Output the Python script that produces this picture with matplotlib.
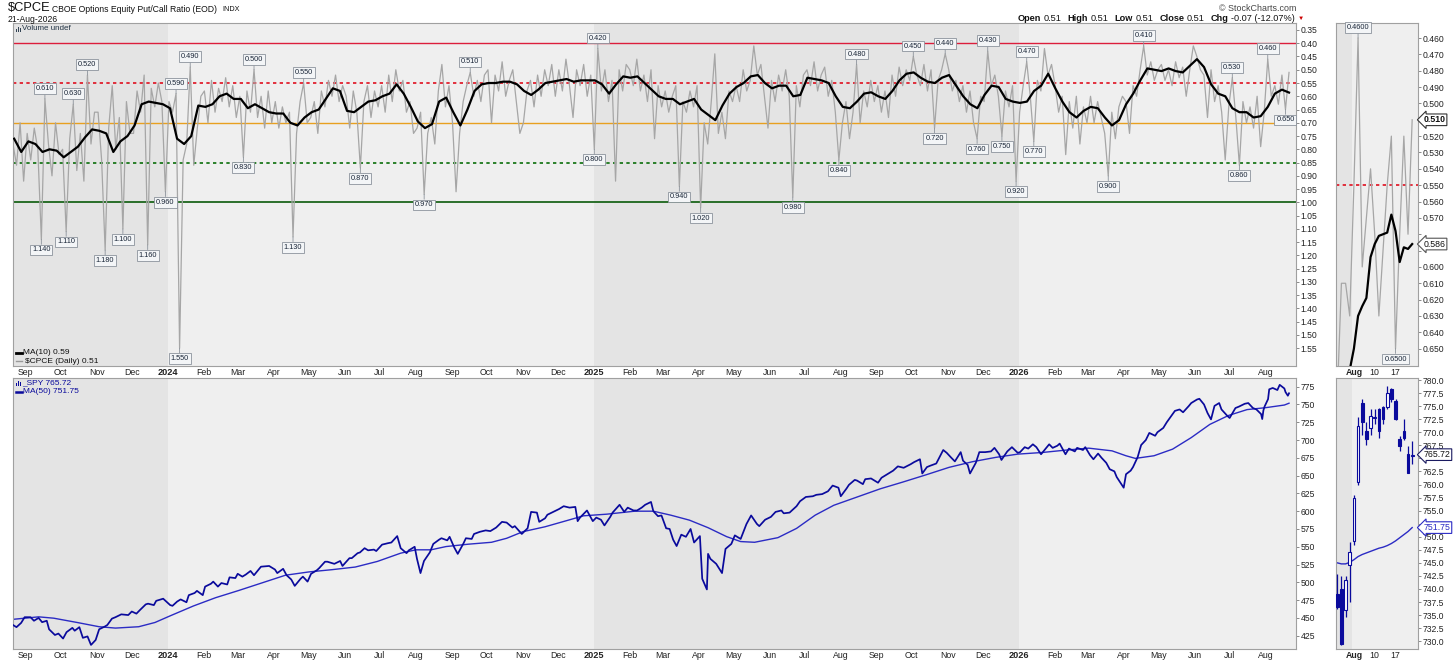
import numpy as np
import pandas as pd
import matplotlib
matplotlib.use("Agg")
import matplotlib.pyplot as plt
from matplotlib.lines import Line2D
from matplotlib.patches import Rectangle

W, H = 1456, 666
plt.rcParams['font.family'] = ['Liberation Sans', 'DejaVu Sans']

# ---- $CPCE daily (10 readings per month, Aug 21 2023 .. Aug 21 2026) ----
cpce_2023 = [
    0.78, 0.86, 0.70, 0.92,
    0.74, 0.84, 0.72, 0.80, 1.14, 0.61, 0.78, 0.90, 0.70, 0.82,
    0.80, 1.11, 0.76, 0.63, 0.88, 0.74, 0.92, 0.52, 0.78, 0.66,
    0.66, 0.84, 1.18, 0.72, 0.56, 0.80, 0.68, 1.10, 0.62, 0.74,
    0.74, 0.58, 0.66, 0.52, 1.16, 0.57, 0.64, 0.55, 0.62, 0.96,
]
cpce_2024 = [
    0.62, 0.66, 0.59, 1.55, 0.84, 0.78, 0.49, 0.86, 0.72, 0.60,
    0.58, 0.70, 0.54, 0.66, 0.57, 0.62, 0.53, 0.64, 0.56, 0.68,
    0.60, 0.83, 0.58, 0.66, 0.50, 0.68, 0.60, 0.72, 0.58, 0.70,
    0.62, 0.72, 0.64, 0.70, 0.66, 1.13, 0.74, 0.62, 0.55, 0.70,
    0.68, 0.62, 0.74, 0.58, 0.64, 0.54, 0.60, 0.52, 0.62, 0.56,
    0.60, 0.72, 0.58, 0.66, 0.87, 0.62, 0.56, 0.68, 0.58, 0.64,
    0.56, 0.66, 0.52, 0.62, 0.50, 0.58, 0.54, 0.66, 0.62, 0.74,
    0.72, 0.66, 0.97, 0.74, 0.68, 0.78, 0.58, 0.48, 0.64, 0.56,
    0.70, 0.96, 0.74, 0.62, 0.56, 0.51, 0.60, 0.54, 0.62, 0.52,
    0.50, 0.70, 0.52, 0.58, 0.47, 0.60, 0.54, 0.50, 0.62, 0.74,
    0.70, 0.58, 0.54, 0.64, 0.52, 0.60, 0.50, 0.56, 0.48, 0.60,
    0.50, 0.58, 0.46, 0.56, 0.68, 0.50, 0.56, 0.48, 0.60, 0.52,
]
cpce_2025 = [
    0.80, 0.42, 0.58, 0.50, 0.62, 0.54, 0.92, 0.50, 0.58, 0.48,
    0.50, 0.56, 0.46, 0.58, 0.52, 0.62, 0.50, 0.76, 0.56, 0.64,
    0.58, 0.66, 0.60, 0.56, 0.94, 0.62, 0.66, 0.58, 0.64, 0.56,
    1.02, 0.70, 0.78, 0.62, 0.44, 0.74, 0.66, 0.76, 0.58, 0.62,
    0.56, 0.62, 0.50, 0.58, 0.54, 0.41, 0.52, 0.48, 0.60, 0.72,
    0.54, 0.62, 0.52, 0.58, 0.50, 0.60, 0.98, 0.56, 0.64, 0.52,
    0.50, 0.56, 0.47, 0.58, 0.52, 0.49, 0.60, 0.54, 0.66, 0.84,
    0.70, 0.62, 0.76, 0.66, 0.48, 0.70, 0.58, 0.64, 0.54, 0.62,
    0.56, 0.66, 0.58, 0.68, 0.52, 0.60, 0.49, 0.56, 0.50, 0.54,
    0.45, 0.52, 0.56, 0.48, 0.58, 0.50, 0.72, 0.54, 0.50, 0.44,
    0.50, 0.58, 0.54, 0.62, 0.56, 0.66, 0.58, 0.70, 0.76, 0.60,
    0.62, 0.43, 0.56, 0.52, 0.60, 0.75, 0.58, 0.64, 0.56, 0.92,
]
cpce_2026 = [
    0.66, 0.56, 0.47, 0.60, 0.77, 0.54, 0.58, 0.42, 0.52, 0.48,
    0.56, 0.66, 0.60, 0.82, 0.62, 0.72, 0.60, 0.78, 0.64, 0.70,
    0.60, 0.70, 0.62, 0.68, 0.74, 0.90, 0.66, 0.76, 0.64, 0.60,
    0.62, 0.74, 0.56, 0.60, 0.50, 0.41, 0.52, 0.47, 0.54, 0.50,
    0.48, 0.54, 0.50, 0.56, 0.47, 0.53, 0.49, 0.60, 0.50, 0.41,
    0.45, 0.50, 0.52, 0.68, 0.50, 0.62, 0.56, 0.66, 0.84, 0.64,
    0.53, 0.68, 0.86, 0.62, 0.70, 0.64, 0.72, 0.60, 0.79, 0.66,
    0.46, 0.60, 0.56, 0.63, 0.52, 0.65, 0.51,
]

# MA(10) of $CPCE (5 readings per month)
ma10_2023 = [0.76, 0.81,
             0.77, 0.78, 0.81, 0.80, 0.805,
             0.83, 0.81, 0.79, 0.755, 0.725,
             0.73, 0.74, 0.81, 0.77, 0.75,
             0.71, 0.63, 0.62, 0.625, 0.63]
ma10_2024 = [0.645, 0.76, 0.78, 0.75, 0.635,
             0.64, 0.63, 0.60, 0.59, 0.61,
             0.61, 0.645, 0.63, 0.645, 0.66,
             0.665, 0.665, 0.70, 0.71, 0.68,
             0.66, 0.65, 0.61, 0.57, 0.58,
             0.655, 0.66, 0.64, 0.62, 0.615,
             0.60, 0.59, 0.555, 0.59, 0.64,
             0.695, 0.72, 0.705, 0.62, 0.605,
             0.66, 0.71, 0.65, 0.58, 0.555,
             0.55, 0.55, 0.545, 0.545, 0.555,
             0.58, 0.595, 0.575, 0.55, 0.545,
             0.54, 0.535, 0.545, 0.54, 0.54]
ma10_2025 = [0.54, 0.555, 0.59, 0.555, 0.525,
             0.53, 0.525, 0.55, 0.575, 0.60,
             0.61, 0.61, 0.63, 0.62, 0.61,
             0.65, 0.67, 0.69, 0.635, 0.59,
             0.565, 0.55, 0.525, 0.52, 0.55,
             0.57, 0.56, 0.56, 0.60, 0.595,
             0.53, 0.535, 0.54, 0.55, 0.60,
             0.64, 0.645, 0.62, 0.59, 0.585,
             0.60, 0.61, 0.58, 0.54, 0.515,
             0.51, 0.53, 0.545, 0.55, 0.53,
             0.52, 0.56, 0.60, 0.63, 0.645,
             0.595, 0.56, 0.565, 0.61, 0.62]
ma10_2026 = [0.625, 0.62, 0.58, 0.56, 0.515,
             0.57, 0.62, 0.66, 0.68, 0.655,
             0.64, 0.645, 0.68, 0.71, 0.69,
             0.63, 0.59, 0.54, 0.495, 0.50,
             0.505, 0.495, 0.505, 0.51, 0.485,
             0.46, 0.49, 0.555, 0.59, 0.60,
             0.645, 0.66, 0.66, 0.68, 0.675,
             0.64, 0.59, 0.575, 0.586]

# spikes that carry a value tag (dates)
tag_low_dates = ["2023-09-15", "2023-10-10", "2023-10-24", "2024-01-08", "2024-01-19",
                 "2024-03-15", "2024-04-26", "2024-09-16", "2025-01-06", "2025-08-15",
                 "2025-10-03", "2025-10-30", "2025-12-05", "2026-01-09", "2026-04-17",
                 "2026-07-02", "2026-08-03"]
tag_high_dates = ["2023-09-13", "2023-10-04", "2023-11-09", "2023-11-22", "2023-12-14",
                  "2023-12-28", "2024-01-10", "2024-03-05", "2024-04-17", "2024-06-14",
                  "2024-08-08", "2025-01-03", "2025-03-13", "2025-04-03", "2025-06-19",
                  "2025-07-31", "2025-10-20", "2025-11-26", "2025-12-18", "2026-01-01",
                  "2026-01-14", "2026-03-18", "2026-07-07", "2026-08-18"]

# ---- SPY closes and MA(50) ----
spy_2023 = [("2023-08-21", 440), ("2023-08-24", 437), ("2023-08-28", 443), ("2023-08-31", 451),
            ("2023-09-05", 451), ("2023-09-08", 446), ("2023-09-12", 450), ("2023-09-15", 444),
            ("2023-09-19", 446), ("2023-09-21", 434), ("2023-09-26", 426), ("2023-09-29", 428),
            ("2023-10-03", 421), ("2023-10-06", 430), ("2023-10-11", 436), ("2023-10-13", 432),
            ("2023-10-17", 437), ("2023-10-20", 422), ("2023-10-24", 424), ("2023-10-27", 412),
            ("2023-10-31", 419), ("2023-11-03", 434), ("2023-11-08", 438), ("2023-11-10", 440),
            ("2023-11-14", 449), ("2023-11-17", 451), ("2023-11-22", 455), ("2023-11-28", 454),
            ("2023-12-01", 459), ("2023-12-05", 456), ("2023-12-08", 461), ("2023-12-13", 469),
            ("2023-12-15", 470), ("2023-12-20", 468), ("2023-12-22", 474), ("2023-12-28", 477)]
spy_2024 = [("2024-01-03", 468), ("2024-01-05", 467), ("2024-01-09", 473), ("2024-01-12", 476),
            ("2024-01-17", 472), ("2024-01-19", 482), ("2024-01-24", 485), ("2024-01-26", 488),
            ("2024-01-31", 482), ("2024-02-02", 494), ("2024-02-07", 498), ("2024-02-09", 501),
            ("2024-02-13", 494), ("2024-02-16", 499), ("2024-02-21", 497), ("2024-02-23", 507),
            ("2024-02-28", 506), ("2024-03-01", 512), ("2024-03-05", 508), ("2024-03-08", 511),
            ("2024-03-12", 516), ("2024-03-15", 510), ("2024-03-21", 522), ("2024-03-28", 523),
            ("2024-04-02", 518), ("2024-04-04", 513), ("2024-04-09", 519), ("2024-04-12", 510),
            ("2024-04-16", 504), ("2024-04-19", 495), ("2024-04-24", 505), ("2024-04-26", 508),
            ("2024-04-30", 501), ("2024-05-03", 512), ("2024-05-08", 517), ("2024-05-10", 520),
            ("2024-05-15", 529), ("2024-05-17", 529), ("2024-05-23", 526), ("2024-05-28", 530),
            ("2024-05-30", 523), ("2024-06-05", 534), ("2024-06-07", 534), ("2024-06-12", 541),
            ("2024-06-14", 542), ("2024-06-18", 548), ("2024-06-21", 545), ("2024-06-26", 546),
            ("2024-06-28", 544), ("2024-07-03", 553), ("2024-07-08", 555), ("2024-07-11", 556),
            ("2024-07-16", 565), ("2024-07-19", 548), ("2024-07-24", 541), ("2024-07-26", 545),
            ("2024-07-31", 550), ("2024-08-02", 533), ("2024-08-05", 513), ("2024-08-08", 530),
            ("2024-08-13", 542), ("2024-08-16", 554), ("2024-08-21", 560), ("2024-08-23", 562),
            ("2024-08-28", 559), ("2024-08-30", 564), ("2024-09-03", 549), ("2024-09-06", 540),
            ("2024-09-11", 555), ("2024-09-13", 562), ("2024-09-18", 561), ("2024-09-20", 568),
            ("2024-09-25", 571), ("2024-09-30", 573), ("2024-10-04", 572), ("2024-10-09", 577),
            ("2024-10-14", 585), ("2024-10-18", 584), ("2024-10-23", 577), ("2024-10-25", 579),
            ("2024-10-31", 568), ("2024-11-05", 576), ("2024-11-08", 599), ("2024-11-13", 598),
            ("2024-11-15", 585), ("2024-11-20", 590), ("2024-11-22", 595), ("2024-11-27", 599),
            ("2024-12-02", 603), ("2024-12-06", 607), ("2024-12-11", 605), ("2024-12-16", 606),
            ("2024-12-18", 586), ("2024-12-20", 591), ("2024-12-26", 601), ("2024-12-31", 586)]
spy_2025 = [("2025-01-03", 591), ("2025-01-07", 588), ("2025-01-10", 580), ("2025-01-15", 592),
            ("2025-01-17", 598), ("2025-01-23", 609), ("2025-01-27", 599), ("2025-01-30", 605),
            ("2025-02-04", 601), ("2025-02-07", 601), ("2025-02-11", 605), ("2025-02-14", 609),
            ("2025-02-19", 613), ("2025-02-21", 600), ("2025-02-25", 593), ("2025-02-28", 594),
            ("2025-03-04", 576), ("2025-03-07", 575), ("2025-03-10", 560), ("2025-03-13", 551),
            ("2025-03-17", 567), ("2025-03-21", 564), ("2025-03-25", 575), ("2025-03-28", 556),
            ("2025-04-02", 565), ("2025-04-04", 505), ("2025-04-08", 490), ("2025-04-09", 540),
            ("2025-04-11", 533), ("2025-04-16", 526), ("2025-04-21", 513), ("2025-04-24", 547),
            ("2025-04-29", 554), ("2025-05-02", 566), ("2025-05-07", 561), ("2025-05-12", 582),
            ("2025-05-16", 594), ("2025-05-21", 582), ("2025-05-23", 579), ("2025-05-28", 588),
            ("2025-06-02", 592), ("2025-06-06", 599), ("2025-06-11", 601), ("2025-06-13", 597),
            ("2025-06-18", 598), ("2025-06-24", 607), ("2025-06-27", 614), ("2025-07-02", 620),
            ("2025-07-08", 621), ("2025-07-11", 623), ("2025-07-16", 624), ("2025-07-21", 628),
            ("2025-07-25", 636), ("2025-07-30", 633), ("2025-08-01", 621), ("2025-08-06", 632),
            ("2025-08-08", 637), ("2025-08-13", 644), ("2025-08-15", 643), ("2025-08-20", 638),
            ("2025-08-22", 645), ("2025-08-27", 646), ("2025-09-02", 640), ("2025-09-05", 647),
            ("2025-09-10", 652), ("2025-09-15", 657), ("2025-09-19", 663), ("2025-09-24", 661),
            ("2025-09-30", 666), ("2025-10-03", 669), ("2025-10-08", 673), ("2025-10-10", 653),
            ("2025-10-14", 662), ("2025-10-17", 664), ("2025-10-22", 667), ("2025-10-28", 686),
            ("2025-10-31", 682), ("2025-11-04", 675), ("2025-11-07", 670), ("2025-11-12", 683),
            ("2025-11-14", 671), ("2025-11-18", 665), ("2025-11-20", 653), ("2025-11-25", 668),
            ("2025-11-28", 683), ("2025-12-03", 683), ("2025-12-08", 684), ("2025-12-11", 689),
            ("2025-12-15", 680), ("2025-12-17", 672), ("2025-12-22", 684), ("2025-12-26", 690),
            ("2025-12-31", 682)]
spy_2026 = [("2026-01-02", 683), ("2026-01-06", 690), ("2026-01-09", 688), ("2026-01-13", 694),
            ("2026-01-16", 690), ("2026-01-20", 680), ("2026-01-23", 686), ("2026-01-27", 694),
            ("2026-01-30", 689), ("2026-02-03", 692), ("2026-02-05", 695), ("2026-02-10", 680),
            ("2026-02-13", 688), ("2026-02-18", 684), ("2026-02-20", 689), ("2026-02-25", 686),
            ("2026-02-27", 690), ("2026-03-03", 679), ("2026-03-06", 673), ("2026-03-10", 681),
            ("2026-03-13", 675), ("2026-03-17", 668), ("2026-03-20", 659), ("2026-03-24", 656),
            ("2026-03-26", 648), ("2026-03-30", 638), ("2026-04-01", 633), ("2026-04-03", 652),
            ("2026-04-07", 657), ("2026-04-09", 662), ("2026-04-13", 676), ("2026-04-16", 693),
            ("2026-04-20", 700), ("2026-04-23", 710), ("2026-04-28", 706), ("2026-04-30", 711),
            ("2026-05-05", 717), ("2026-05-08", 725), ("2026-05-12", 734), ("2026-05-15", 741),
            ("2026-05-19", 743), ("2026-05-22", 739), ("2026-05-27", 748), ("2026-05-29", 752),
            ("2026-06-03", 757), ("2026-06-05", 758), ("2026-06-09", 750), ("2026-06-12", 738),
            ("2026-06-15", 729), ("2026-06-18", 748), ("2026-06-22", 752), ("2026-06-24", 743),
            ("2026-06-29", 734), ("2026-07-01", 731), ("2026-07-06", 745), ("2026-07-09", 747),
            ("2026-07-14", 751), ("2026-07-17", 752), ("2026-07-21", 745), ("2026-07-24", 743),
            ("2026-07-28", 736.5), ("2026-07-29", 729.5), ("2026-07-30", 741.7), ("2026-07-31", 747.1),
            ("2026-08-03", 757.5), ("2026-08-04", 771.3), ("2026-08-07", 773.2), ("2026-08-11", 770.3),
            ("2026-08-13", 777.6), ("2026-08-17", 772.5), ("2026-08-18", 767.4), ("2026-08-20", 762.3),
            ("2026-08-21", 765.72)]
spy_ma50 = [("2023-08-21", 448), ("2023-09-12", 451.5), ("2023-09-25", 449.6), ("2023-10-15", 443.6),
            ("2023-11-03", 437.6), ("2023-11-17", 435.7), ("2023-12-07", 437.6), ("2023-12-21", 443.6),
            ("2024-01-03", 452.9), ("2024-01-23", 466.8), ("2024-02-11", 478.4), ("2024-03-02", 488.6),
            ("2024-03-22", 499.3), ("2024-04-11", 510), ("2024-05-01", 514.6), ("2024-05-21", 517.8),
            ("2024-06-10", 521.5), ("2024-06-29", 529.4), ("2024-07-19", 541), ("2024-08-01", 545.7),
            ("2024-08-14", 545.7), ("2024-08-27", 550.3), ("2024-09-15", 553.6), ("2024-10-05", 556.3),
            ("2024-10-18", 561.9), ("2024-11-01", 571.2), ("2024-11-20", 578.1), ("2024-12-10", 587.4),
            ("2024-12-23", 593.5), ("2025-01-12", 595.8), ("2025-02-05", 600), ("2025-02-21", 600),
            ("2025-03-08", 594.4), ("2025-03-24", 587.4), ("2025-04-09", 576.8), ("2025-04-25", 564.2),
            ("2025-05-07", 557.3), ("2025-05-19", 556.3), ("2025-06-08", 562.8), ("2025-06-24", 575.8),
            ("2025-07-10", 594.4), ("2025-07-26", 608.3), ("2025-08-15", 619.9), ("2025-09-04", 631.5),
            ("2025-09-23", 640.8), ("2025-10-13", 651), ("2025-11-02", 661.6), ("2025-11-22", 669.5),
            ("2025-12-12", 675.6), ("2025-12-31", 680.2), ("2026-01-21", 682.5), ("2026-02-10", 685.8),
            ("2026-03-02", 688.6), ("2026-03-22", 684.8), ("2026-04-03", 677.9), ("2026-04-11", 674.2),
            ("2026-04-27", 677.9), ("2026-05-13", 687.2), ("2026-05-29", 703.4), ("2026-06-14", 722),
            ("2026-06-30", 734.5), ("2026-07-16", 742.8), ("2026-08-01", 745.5), ("2026-08-17", 749.2),
            ("2026-08-21", 751.75)]

# ---- last 19 sessions (side panels) ----
recent_cpce = [0.68, 0.61, 0.61, 0.63, 0.55, 0.46, 0.60, 0.57, 0.54, 0.58,
               0.63, 0.59, 0.55, 0.52, 0.65, 0.58, 0.52, 0.58, 0.51]
recent_ma10 = [0.70, 0.70, 0.69, 0.663, 0.650, 0.630, 0.624, 0.619, 0.594, 0.586,
               0.581, 0.580, 0.579, 0.568, 0.578, 0.597, 0.588, 0.589, 0.586]
recent_open = [739.1, 740.0, 736.0, 744.5, 749.2, 760.4, 775.7, 770.3, 770.9, 772.7,
               774.4, 774.8, 774.8, 778.3, 776.0, 768.7, 770.3, 765.8, 765.5]
recent_high = [742.9, 742.5, 742.5, 748.9, 758.0, 773.0, 776.3, 772.0, 774.5, 774.5,
               774.6, 775.0, 778.8, 778.4, 776.3, 769.2, 772.5, 767.4, 768.3]
recent_low = [736.2, 729.2, 734.6, 737.5, 748.5, 760.0, 769.5, 767.5, 769.5, 771.5,
              769.0, 771.5, 774.5, 775.8, 772.3, 766.5, 768.5, 762.2, 764.0]
recent_close = [736.5, 729.5, 741.7, 747.1, 757.5, 771.3, 771.9, 768.7, 773.2, 772.9,
                770.3, 772.5, 777.6, 776.4, 772.5, 767.4, 769.0, 762.3, 765.72]
recent_ma50 = [745.0, 744.8, 744.8, 745.1, 745.6, 746.2, 746.6, 746.9, 747.2, 747.5,
               747.8, 748.0, 748.3, 748.7, 749.2, 749.8, 750.4, 751.0, 751.75]

# ---------------------------------------------------------------------------
cpce = np.array(cpce_2023 + cpce_2024 + cpce_2025 + cpce_2026)
cpce_dates = pd.date_range("2023-08-21", "2026-08-21", periods=len(cpce))
ma10 = np.array(ma10_2023 + ma10_2024 + ma10_2025 + ma10_2026)
ma10_dates = pd.date_range("2023-08-22", "2026-08-21", periods=len(ma10))
spy_pts = spy_2023 + spy_2024 + spy_2025 + spy_2026
spy_dates = pd.to_datetime([d for d, _ in spy_pts])
spy_vals = [v for _, v in spy_pts]
ma50_dates = pd.to_datetime([d for d, _ in spy_ma50])
ma50_vals = [v for _, v in spy_ma50]
recent_idx = np.arange(len(recent_cpce))

GREY = '#a6a6a6'
BLUE = '#0a0a9c'
EDGE = '#a0a0a0'
TXT = '#222222'

fig = plt.figure(figsize=(W / 100, H / 100), dpi=100)
fig.patch.set_facecolor('white')


def panel(x0, y0, x1, y1):
    return fig.add_axes([x0 / W, 1 - y1 / H, (x1 - x0) / W, (y1 - y0) / H])


def fy(y):
    return 1 - y / H


ax_top = panel(13, 23, 1296, 366)
ax_bot = panel(13, 378, 1296, 649)
ax_mtop = panel(1336, 23, 1418, 366)
ax_mbot = panel(1336, 378, 1418, 649)

for ax in (ax_top, ax_bot, ax_mtop, ax_mbot):
    ax.set_facecolor('#efefef')
    for s in ax.spines.values():
        s.set_color(EDGE)
        s.set_linewidth(0.8)
    ax.yaxis.tick_right()
    ax.tick_params(axis='y', length=2, width=0.6, pad=1.5, labelsize=6.2,
                   colors='#777777', labelcolor=TXT)
    ax.tick_params(axis='x', length=0, pad=1.5, labelsize=6.3, labelcolor=TXT)

# ---- main CPCE panel ----
ax_top.plot(cpce_dates, cpce, color=GREY, lw=0.9, zorder=2)
ax_top.plot(ma10_dates, ma10, color='black', lw=1.6, zorder=3)
ax_top.axhline(0.40, color='#dc1e3c', lw=1.0, zorder=1)
ax_top.axhline(0.55, color='#e01020', lw=1.2, ls=(0, (2, 2)), zorder=1)
ax_top.axhline(0.70, color='#e8a020', lw=1.0, zorder=1)
ax_top.axhline(0.85, color='#0a6e0a', lw=1.2, ls=(0, (2, 2)), zorder=1)
ax_top.axhline(1.00, color='#0a5a0a', lw=1.2, zorder=1)
ax_top.set_ylim(1.617, 0.3237)
ax_top.set_yticks(np.arange(0.35, 1.56, 0.05))
ax_top.set_yticklabels([f'{v:.2f}' for v in np.arange(0.35, 1.56, 0.05)])


def pick(dates, values, when, low):
    i = int(np.abs((dates - pd.Timestamp(when)).total_seconds()).argmin())
    lo, hi = max(i - 2, 0), min(i + 3, len(values))
    seg = np.asarray(values[lo:hi])
    j = lo + int(seg.argmin() if low else seg.argmax())
    return dates[j], values[j]


def tag(ax, x, y, text, above, size=5.3):
    ax.annotate(text, xy=(x, y), xytext=(0, 5 if above else -5), textcoords='offset points',
                ha='center', va='bottom' if above else 'top', fontsize=size, color='#1a2638',
                bbox=dict(boxstyle='square,pad=0.25', fc='#f3f5f7', ec='#8c939c', lw=0.6),
                arrowprops=dict(arrowstyle='-', color='#8c939c', lw=0.6, shrinkA=0, shrinkB=0),
                zorder=6, annotation_clip=False)


for d in tag_low_dates:
    x, v = pick(cpce_dates, cpce, d, True)
    tag(ax_top, x, v, f'{v:.3f}', True)
for d in tag_high_dates:
    x, v = pick(cpce_dates, cpce, d, False)
    tag(ax_top, x, v, f'{v:.3f}', False)

# ---- main SPY panel ----
ax_bot.plot(spy_dates, spy_vals, color=BLUE, lw=1.25, zorder=3)
ax_bot.plot(ma50_dates, ma50_vals, color='#2b2bc4', lw=1.0, zorder=2)
ax_bot.set_ylim(406.3, 787.2)
ax_bot.set_yticks(np.arange(425, 776, 25))
ax_bot.set_yticklabels([f'{v:d}' for v in np.arange(425, 776, 25)])

month_starts = pd.date_range("2023-09-01", "2026-08-01", freq='MS')
month_lbls = [str(d.year) if d.month == 1 else d.strftime('%b') for d in month_starts]
for ax in (ax_top, ax_bot):
    ax.axvspan(pd.Timestamp("2023-08-01"), pd.Timestamp("2024-01-01"), color='#e4e4e4', lw=0, zorder=0)
    ax.axvspan(pd.Timestamp("2025-01-01"), pd.Timestamp("2026-01-01"), color='#e4e4e4', lw=0, zorder=0)
    ax.set_xlim(pd.Timestamp("2023-08-21"), pd.Timestamp("2026-08-27"))
    ax.set_xticks(month_starts)
    ax.set_xticklabels(month_lbls)
    for t in ax.get_xticklabels():
        if t.get_text().isdigit():
            t.set_fontweight('bold')
            t.set_fontsize(6.6)

# ---- side panels ----
for ax in (ax_mtop, ax_mbot):
    ax.axvspan(-1, 3.6, color='#e4e4e4', lw=0, zorder=0)
    ax.set_xlim(-0.3, 19.4)
    ax.set_xticks([4, 9, 14])
    ax.set_xticklabels(['Aug', '10', '17'])
    ax.get_xticklabels()[0].set_fontweight('bold')

ax_mtop.plot(recent_idx, recent_cpce, color=GREY, lw=0.9, zorder=2)
ax_mtop.plot(recent_idx, recent_ma10, color='black', lw=1.6, zorder=3)
ax_mtop.axhline(0.55, color='#e01020', lw=1.2, ls=(0, (2, 2)), zorder=1)
ax_mtop.set_ylim(0.6606, 0.4508)
mtop_ticks = np.arange(0.46, 0.651, 0.01)
ax_mtop.set_yticks(mtop_ticks)
ax_mtop.set_yticklabels([f'{v:.3f}' for v in mtop_ticks])
i_lo = int(np.argmin(recent_cpce))
i_hi = int(np.argmax(recent_cpce[1:])) + 1
tag(ax_mtop, i_lo, recent_cpce[i_lo], f'{recent_cpce[i_lo]:.4f}', True)
tag(ax_mtop, i_hi, recent_cpce[i_hi], f'{recent_cpce[i_hi]:.4f}', False)

for i in recent_idx:
    o, h, l, c = recent_open[i], recent_high[i], recent_low[i], recent_close[i]
    ax_mbot.vlines(i, l, h, color=BLUE, lw=0.9, zorder=3)
    up = c >= o
    ax_mbot.add_patch(Rectangle((i - 0.32, min(o, c)), 0.64, max(abs(c - o), 0.15),
                                fc='white' if up else BLUE, ec=BLUE, lw=0.8, zorder=4))
ax_mbot.plot(recent_idx, recent_ma50, color='#2b2bc4', lw=1.0, zorder=2)
ax_mbot.set_ylim(728.5, 780.4)
mbot_ticks = np.arange(730, 780.1, 2.5)
ax_mbot.set_yticks(mbot_ticks)
ax_mbot.set_yticklabels([f'{v:.1f}' for v in mbot_ticks])


def right_tag(ax, v, text, ec, color, weight='normal'):
    ax.annotate(text, xy=(1.0, v), xycoords=('axes fraction', 'data'), xytext=(4, 0),
                textcoords='offset points', ha='left', va='center', fontsize=6.3,
                fontweight=weight, color=color,
                bbox=dict(boxstyle='larrow,pad=0.15', fc='white', ec=ec, lw=0.8),
                zorder=7, annotation_clip=False)


def hide_near(ax, ticks, values, gap):
    # the value tags sit on top of these scale labels in the original
    for t, lbl in zip(ticks, ax.get_yticklabels()):
        if any(abs(t - v) < gap for v in values):
            lbl.set_visible(False)


right_tag(ax_mtop, recent_cpce[-1], f'{recent_cpce[-1]:.3f}', '#333333', '#111111', 'bold')
right_tag(ax_mtop, recent_ma10[-1], f'{recent_ma10[-1]:.3f}', '#555555', '#111111')
right_tag(ax_mbot, recent_close[-1], f'{recent_close[-1]:.2f}', '#1a1a60', '#111111')
right_tag(ax_mbot, recent_ma50[-1], f'{recent_ma50[-1]:.2f}', '#2b2bc4', '#2b2bc4')
hide_near(ax_mtop, mtop_ticks, [recent_cpce[-1], recent_ma10[-1]], 0.0062)
hide_near(ax_mbot, mbot_ticks, [recent_close[-1], recent_ma50[-1]], 1.3)

# ---- header and legends ----
fig.text(8 / W, fy(8.5), '\\$CPCE', fontsize=9.3, color='#111111', va='center')
fig.text(52 / W, fy(9), 'CBOE Options Equity Put/Call Ratio (EOD)', fontsize=6.2, color='#111111', va='center')
fig.text(222 / W, fy(9.5), 'INDX', fontsize=5.2, color='#111111', va='center')
fig.text(8 / W, fy(19.5), '21-Aug-2026', fontsize=6.2, color='#111111', va='center')
fig.text(1296 / W, fy(8.5), '\u00a9 StockCharts.com', fontsize=6.4, color='#444444', va='center', ha='right')

renderer = fig.canvas.get_renderer()
xpos = 1018.0
pieces = [('Open', 'bold'), ('0.51', 'normal'), ('High', 'bold'), ('0.51', 'normal'),
          ('Low', 'bold'), ('0.51', 'normal'), ('Close', 'bold'), ('0.51', 'normal'),
          ('Chg', 'bold'), ('-0.07 (-12.07%)', 'normal')]
for s, w in pieces:
    t = fig.text(xpos / W, fy(18.5), s, fontsize=6.6, fontweight=w, color='#111111', va='center')
    xpos += t.get_window_extent(renderer=renderer).width + (2.5 if w == 'bold' else 6)
fig.text((xpos - 3) / W, fy(18.5), '\u25bc', fontsize=4.5, color='#cc0000', va='center')


def bars_icon(x, y, color):
    for k, hgt in enumerate((3, 5, 4)):
        fig.add_artist(Rectangle(((x + 2 * k) / W, fy(y + 2.5)), 1.2 / W, hgt / H,
                                 fc=color, ec='none', transform=fig.transFigure))


bars_icon(16, 29, '#334455')
fig.text(22 / W, fy(29), 'Volume undef', fontsize=5.8, color='#223344', va='center')

fig.add_artist(Line2D([16 / W, 22 / W], [fy(352.5)] * 2, color='black', lw=2.0))
fig.text(23 / W, fy(352.5), 'MA(10) 0.59', fontsize=6.0, color='#111111', va='center')
fig.add_artist(Line2D([16 / W, 22 / W], [fy(361)] * 2, color='#999999', lw=1.0))
fig.text(25 / W, fy(361), '\\$CPCE (Daily) 0.51', fontsize=6.0, color='#111111', va='center')

bars_icon(16, 383, BLUE)
fig.text(22 / W, fy(383), '_SPY 765.72', fontsize=6.0, color=BLUE, va='center')
fig.add_artist(Line2D([16 / W, 22 / W], [fy(391.5)] * 2, color=BLUE, lw=1.8))
fig.text(23 / W, fy(391.5), 'MA(50) 751.75', fontsize=6.0, color=BLUE, va='center')

fig.savefig('out.png', dpi=100, facecolor='white')
